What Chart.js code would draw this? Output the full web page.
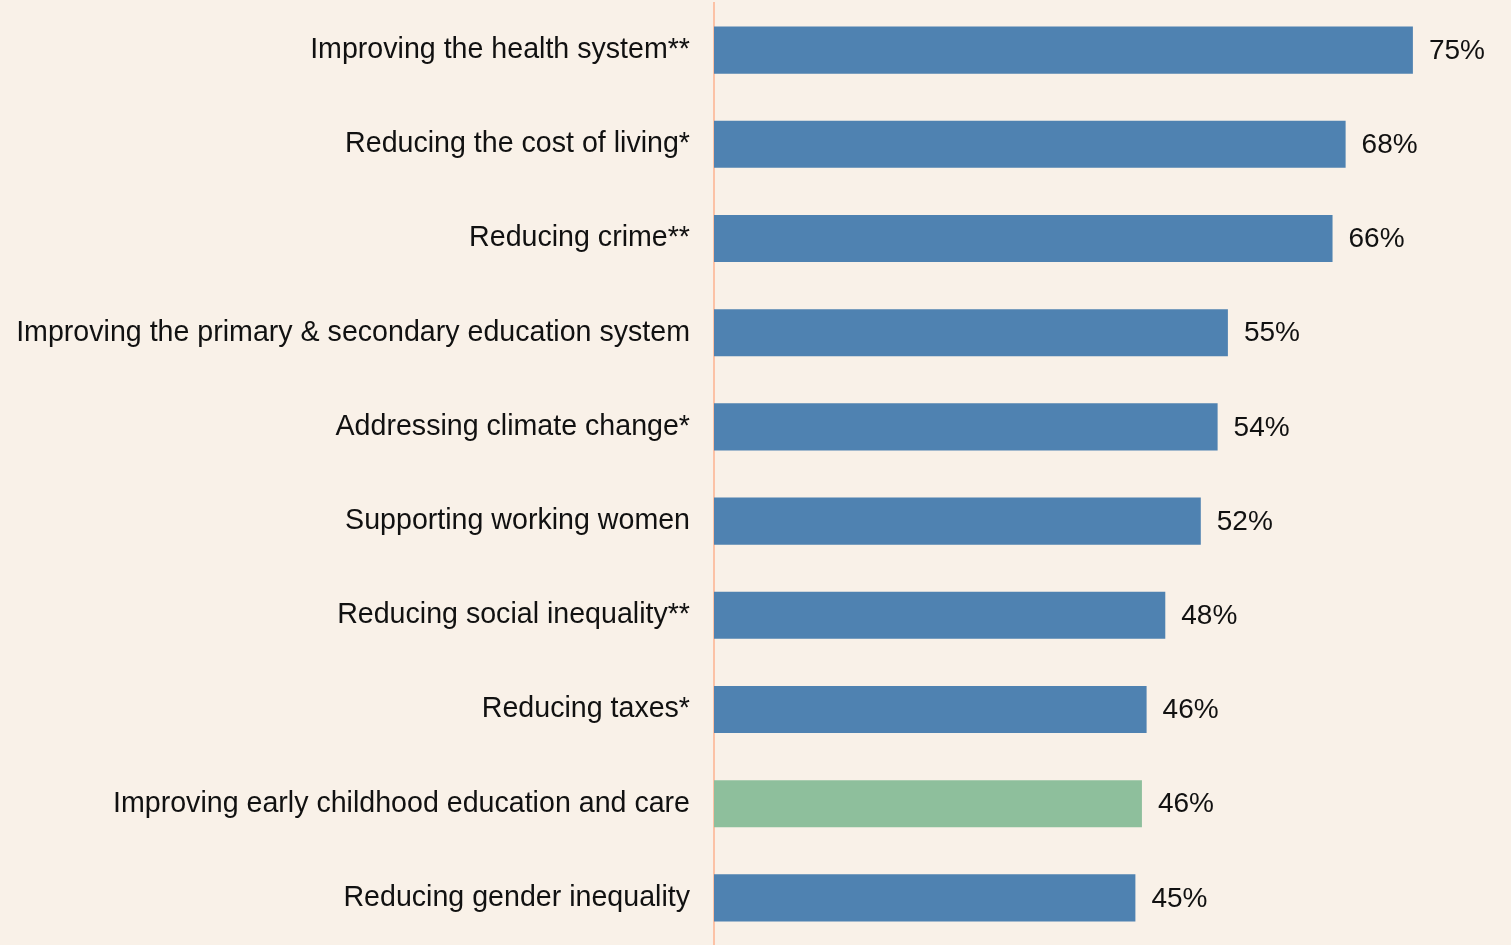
<!DOCTYPE html>
<html>
<head>
<meta charset="utf-8">
<script src="https://cdn.jsdelivr.net/npm/chart.js@4.4.1/dist/chart.umd.min.js"></script>
<style>
  html,body{margin:0;padding:0;background:#f9f1e8;}
  #wrap{width:1511px;height:945px;position:relative;}
</style>
</head>
<body>
<div id="wrap"><canvas id="c"></canvas></div>
<script>
/* data (bar lengths, labels rounded) */
const categories=[
  'Improving the health system**',
  'Reducing the cost of living*',
  'Reducing crime**',
  'Improving the primary & secondary education system',
  'Addressing climate change*',
  'Supporting working women',
  'Reducing social inequality**',
  'Reducing taxes*',
  'Improving early childhood education and care',
  'Reducing gender inequality'
];
const values=[74.8,67.6,66.2,55.0,53.9,52.1,48.3,46.3,45.8,45.1];
const highlight=[false,false,false,false,false,false,false,false,true,false];

const BLUE='#4f82b1', GREEN='#8ebf9c';
const FONT='"Liberation Sans", Arial, sans-serif';

const valueLabels={
  id:'valueLabels',
  afterDatasetsDraw(chart){
    const ctx=chart.ctx;
    const meta=chart.getDatasetMeta(0);
    ctx.save();
    ctx.font='28px '+FONT;
    ctx.fillStyle='#111';
    ctx.textAlign='left';
    ctx.textBaseline='middle';
    meta.data.forEach((bar,i)=>{
      ctx.fillText(Math.round(values[i])+'%',bar.x+16,bar.y+1);
    });
    ctx.restore();
  }
};

new Chart(document.getElementById('c'),{
  type:'bar',
  data:{labels:categories,datasets:[{
    data:values,
    backgroundColor:highlight.map(h=>h?GREEN:BLUE),
    borderWidth:0,
    categoryPercentage:1,
    barPercentage:0.5
  }]},
  options:{
    indexAxis:'y',
    responsive:true,maintainAspectRatio:false,animation:false,
    layout:{padding:{top:3,right:0,bottom:-2,left:0}},
    plugins:{legend:{display:false},tooltip:{enabled:false}},
    scales:{
      x:{display:false,min:0,max:85.3},
      y:{
        grid:{display:false},
        border:{display:true,color:'#fcc2a6',width:2},
        ticks:{color:'#111',padding:16,font:{family:FONT,size:28.6}},
        afterFit(s){s.width=714;s.paddingTop=0;s.paddingBottom=0;}
      }
    }
  },
  plugins:[valueLabels]
});
</script>
</body>
</html>
